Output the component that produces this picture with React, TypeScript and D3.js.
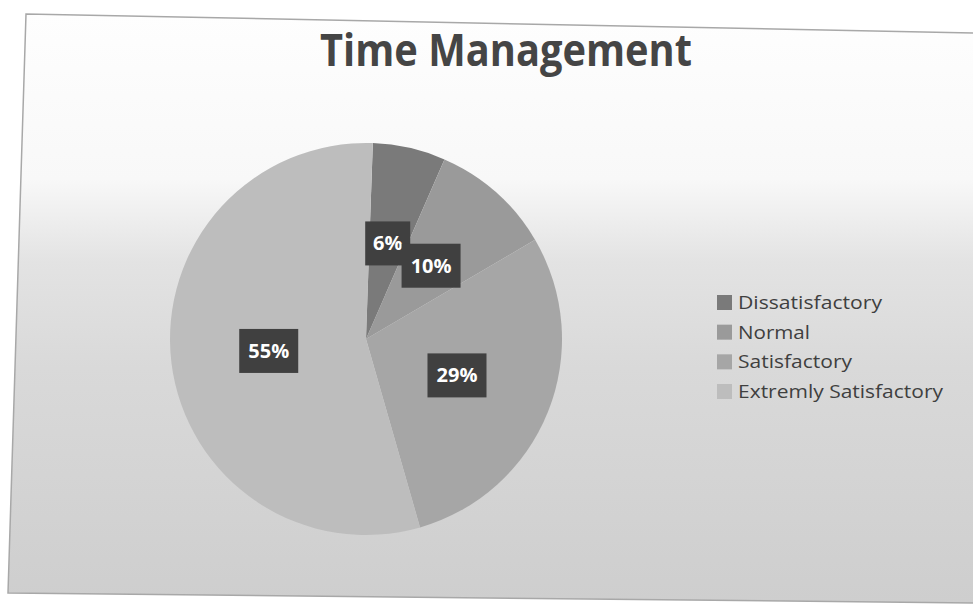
import React from "react";
import * as d3 from "d3";

const title = "Time Management";
const categories = ["Dissatisfactory", "Normal", "Satisfactory", "Extremly Satisfactory"];
const values = [6, 10, 29, 55];
const labels = ["6%", "10%", "29%", "55%"];
const colors = ["#7a7a7a", "#9a9a9a", "#a6a6a6", "#bdbdbd"];
const legendLengths = [144, 72, 114, 205];

const W = 973;
const H = 605;
const cx = 366;
const cy = 339;
const R = 196;

export default function App() {
  const pie = d3
    .pie<number>()
    .sort(null)
    .value((d) => d)
    .startAngle((2 * Math.PI) / 180)
    .endAngle((2 * Math.PI) / 180 + 2 * Math.PI);
  const arcs = pie(values);
  const arc = d3.arc<d3.PieArcDatum<number>>().innerRadius(0).outerRadius(R);

  const legendY = d3.scaleLinear().domain([0, 3]).range([303, 392]);

  return (
    <svg
      width={W}
      height={H}
      style={{ position: "absolute", left: 0, top: 0, background: "#ffffff" }}
    >
      <defs>
        <linearGradient id="bg" gradientUnits="userSpaceOnUse" x1="0" y1="14" x2="0" y2="603">
          <stop offset="0" stopColor="#fefefe" />
          <stop offset="0.28" stopColor="#f8f8f8" />
          <stop offset="0.42" stopColor="#e3e3e3" />
          <stop offset="0.6" stopColor="#d9d9d9" />
          <stop offset="1" stopColor="#cecece" />
        </linearGradient>
      </defs>
      <polygon points="26,14 973,33 973,603 8,593" fill="url(#bg)" />
      <polyline
        points="973,33 26,14 8,593 973,603"
        fill="none"
        stroke="#a8a8a8"
        strokeWidth={1.5}
      />
      <text
        x={506}
        y={66}
        textAnchor="middle"
        fontFamily="'Open Sans', sans-serif"
        fontWeight="bold"
        fontSize={44}
        fill="#454545"
        textLength={372}
        lengthAdjust="spacingAndGlyphs"
      >
        {title}
      </text>
      <g transform={`translate(${cx},${cy})`}>
        {arcs.map((a, i) => (
          <path key={categories[i]} d={arc(a) || ""} fill={colors[i]} />
        ))}
        {arcs.map((a, i) => {
          const [x, y] = arc.centroid(a);
          const bw = 17 + labels[i].length * 14;
          const bh = 44;
          return (
            <g key={"l" + i} transform={`translate(${x},${y})`}>
              <rect x={-bw / 2} y={-bh / 2} width={bw} height={bh} fill="#404040" />
              <text
                x={0}
                y={7}
                textAnchor="middle"
                fontFamily="'Open Sans', sans-serif"
                fontWeight="bold"
                fontSize={20}
                fill="#ffffff"
              >
                {labels[i]}
              </text>
            </g>
          );
        })}
      </g>
      <g>
        {categories.map((c, i) => (
          <g key={c} transform={`translate(717,${legendY(i)})`}>
            <rect x={0} y={-8} width={15} height={15} fill={colors[i]} />
            <text
              x={21}
              y={6}
              fontFamily="'Open Sans', sans-serif"
              fontSize={18}
              fill="#3f3f3f"
              textLength={legendLengths[i]}
              lengthAdjust="spacingAndGlyphs"
            >
              {c}
            </text>
          </g>
        ))}
      </g>
    </svg>
  );
}
